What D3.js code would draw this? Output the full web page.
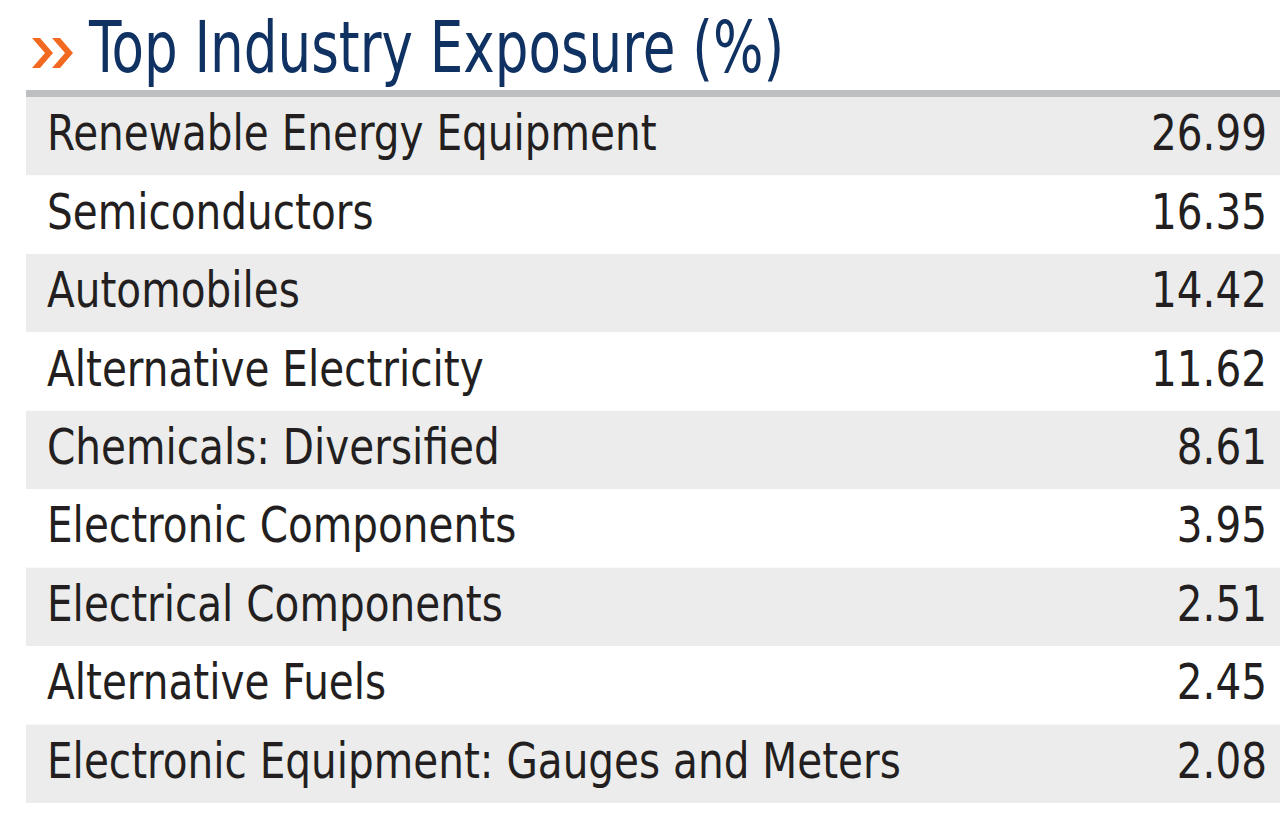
<!DOCTYPE html>
<html>
<head>
<meta charset="utf-8">
<script src="https://cdn.jsdelivr.net/npm/d3@7"></script>
<style>
  body { margin: 0; background: #fff; }
  svg text { font-family: "DejaVu Sans Condensed", "DejaVu Sans", sans-serif; font-stretch: condensed; }
</style>
</head>
<body>
<div id="chart"></div>
<script>
// industry names and weights (%)
const industries = [
    "Renewable Energy Equipment",
    "Semiconductors",
    "Automobiles",
    "Alternative Electricity",
    "Chemicals: Diversified",
    "Electronic Components",
    "Electrical Components",
    "Alternative Fuels",
    "Electronic Equipment: Gauges and Meters"
];
const weights = [26.99, 16.35, 14.42, 11.62, 8.61, 3.95, 2.51, 2.45, 2.08];
const title = "Top Industry Exposure (%)";

const width = 1280, height = 822;
const svg = d3.select("#chart").append("svg")
    .attr("width", width)
    .attr("height", height);

const rows = industries.map(function(d, i) { return { name: d, value: weights[i] }; });

const y = d3.scaleBand()
    .domain(industries)
    .range([97, 803]);

// the font is wider than the original condensed face, squeeze it a bit
const titleSqueeze = 0.82, textSqueeze = 0.92;

// orange chevrons before the title
[32, 52].forEach(function(x0) {
    svg.append("polygon")
        .attr("points", [[x0, 38], [x0 + 8, 38], [x0 + 21, 53], [x0 + 8, 68], [x0, 68], [x0 + 13, 53]].join(" "))
        .attr("fill", "#f26a21");
});

svg.append("text")
    .attr("class", "title")
    .attr("transform", "translate(89,72) scale(" + titleSqueeze + ",1)")
    .attr("fill", "#0f3262")
    .style("font-size", "72px")
    .text(title);

// top rule
svg.append("rect")
    .attr("x", 26).attr("y", 90)
    .attr("width", width - 26).attr("height", 7)
    .attr("fill", "#bdbfc1");

const row = svg.selectAll("g.row")
    .data(rows)
    .join("g")
    .attr("class", "row")
    .attr("transform", function(d) { return "translate(0," + y(d.name) + ")"; });

row.append("rect")
    .attr("x", 26)
    .attr("width", width - 26)
    .attr("height", y.bandwidth())
    .attr("fill", function(d, i) { return i % 2 == 0 ? "#ececec" : "#ffffff"; });

const base = y.bandwidth() / 2 + 14;

row.append("text")
    .attr("class", "label")
    .attr("transform", "translate(47," + base + ") scale(" + textSqueeze + ",1)")
    .attr("fill", "#231f20")
    .style("font-size", "49px")
    .text(function(d) { return d.name; });

row.append("text")
    .attr("class", "val")
    .attr("transform", "translate(1267," + base + ") scale(" + textSqueeze + ",1)")
    .attr("text-anchor", "end")
    .attr("fill", "#231f20")
    .style("font-size", "49px")
    .text(function(d) { return d3.format(".2f")(d.value); });
</script>
</body>
</html>
